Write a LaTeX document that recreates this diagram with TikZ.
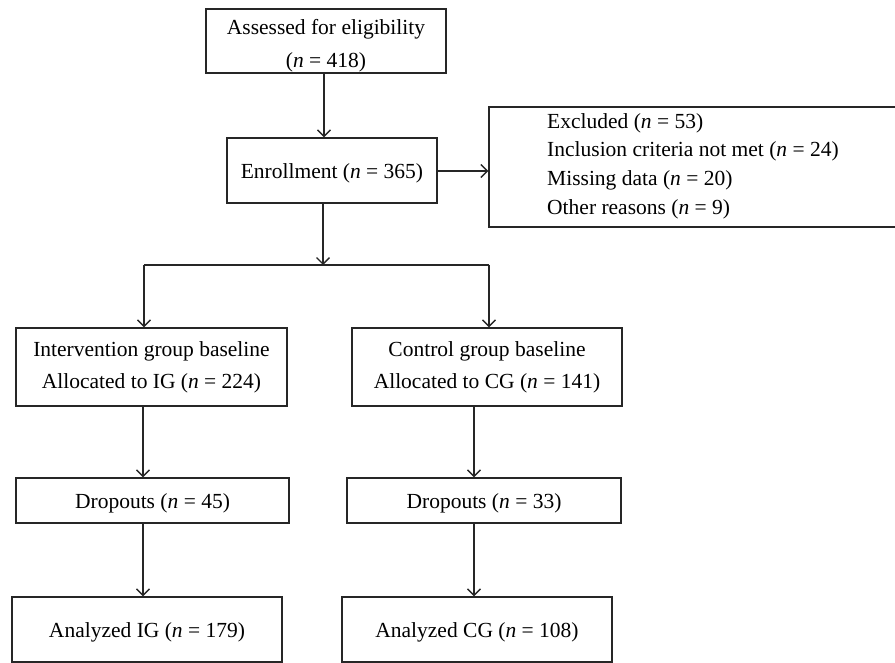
\documentclass[tikz,border=0pt]{standalone}
\usepackage{fontspec}
\setmainfont{Liberation Serif}
\usetikzlibrary{arrows.meta}
\newcommand{\lowr}[1]{\raisebox{-2.5pt}[\height][\depth]{#1}}
\tikzset{
  box/.style={draw=black!85, line width=1.35pt, inner sep=0pt, align=center,
    font=\fontsize{21.5}{33}\selectfont},
  ln/.style={draw=black!85, line width=1.35pt},
  arr/.style={ln, -{Straight Barb[length=6.5pt,width=13pt,line width=1.35pt]}}
}
\begin{document}
\begin{tikzpicture}[x=1pt,y=-1pt]
\useasboundingbox (0,0) rectangle (895,663);
\fill[white] (0,0) rectangle (895,663);
\node[box, minimum width=240pt, minimum height=64pt] (b1) at (326,41) {\rule{0pt}{24pt}Assessed for eligibility\\(\textit{n} = 418)};
\node[box, minimum width=210pt, minimum height=65pt] (enr) at (332,170.5) {\lowr{Enrollment (\textit{n} = 365)}};
\node[box, minimum width=408pt, minimum height=120pt] (exc) at (693,167) {};
\node[anchor=west, inner sep=0pt, align=left, font=\fontsize{21.5}{28.7}\selectfont] (exct) at (547,166)
  {Excluded (\textit{n} = 53)\\Inclusion criteria not met (\textit{n} = 24)\\Missing data (\textit{n} = 20)\\Other reasons (\textit{n} = 9)};
\node[box, minimum width=271pt, minimum height=78pt, font=\fontsize{21.5}{32}\selectfont] (ig) at (151.5,367) {Intervention group baseline\\Allocated to IG (\textit{n} = 224)};
\node[box, minimum width=270pt, minimum height=78pt, font=\fontsize{21.5}{32}\selectfont] (cg) at (487,367) {Control group baseline\\Allocated to CG (\textit{n} = 141)};
\node[box, minimum width=273pt, minimum height=45pt] (igd) at (152.5,500.5) {\lowr{Dropouts (\textit{n} = 45)}};
\node[box, minimum width=274pt, minimum height=45pt] (cgd) at (484,500.5) {\lowr{Dropouts (\textit{n} = 33)}};
\node[box, minimum width=270pt, minimum height=65pt] (iga) at (147,629.5) {\lowr{Analyzed IG (\textit{n} = 179)}};
\node[box, minimum width=270pt, minimum height=65pt] (cga) at (477,629.5) {\lowr{Analyzed CG (\textit{n} = 108)}};
\coordinate (xa) at (324,0);
\coordinate (ya) at (0,171);
\coordinate (split) at (323,265);
\coordinate (sl) at (144,265);
\coordinate (sr) at (489,265);
\coordinate (xig) at (143,0);
\coordinate (xcg) at (474,0);
\draw[arr] (b1.south -| xa) -- (enr.north -| xa);
\draw[arr] (enr.east |- ya) -- (exc.west |- ya);
\draw[arr] (enr.south -| split) -- (split);
\draw[ln] (sl) -- (sr);
\draw[arr] (sl) -- (sl |- ig.north);
\draw[arr] (sr) -- (sr |- cg.north);
\draw[arr] (ig.south -| xig) -- (igd.north -| xig);
\draw[arr] (igd.south -| xig) -- (iga.north -| xig);
\draw[arr] (cg.south -| xcg) -- (cgd.north -| xcg);
\draw[arr] (cgd.south -| xcg) -- (cga.north -| xcg);
\end{tikzpicture}
\end{document}
